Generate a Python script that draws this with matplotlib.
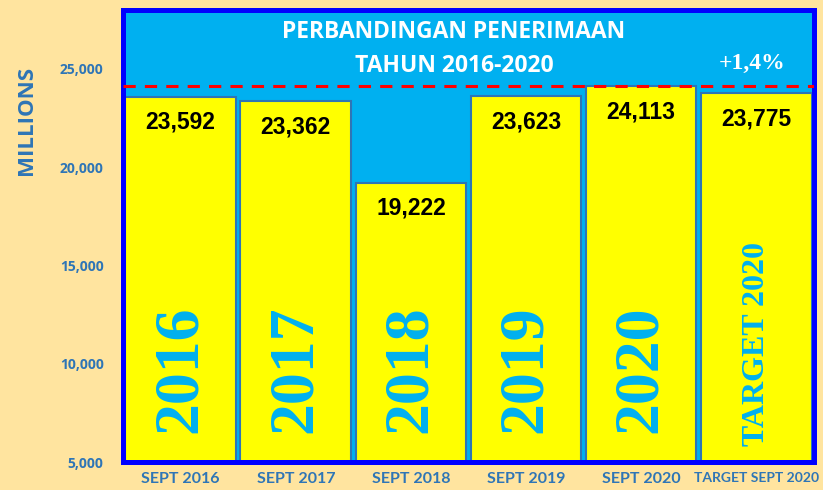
import matplotlib.pyplot as plt

# data
categories = ['SEPT 2016', 'SEPT 2017', 'SEPT 2018', 'SEPT 2019', 'SEPT 2020', 'TARGET SEPT 2020']
values = [23592, 23362, 19222, 23623, 24113, 23775]
big_labels = ['2016', '2017', '2018', '2019', '2020', 'TARGET 2020']
yticks = [5000, 10000, 15000, 20000, 25000]
ref_level = 24113

fig = plt.figure(figsize=(8.23, 4.9), dpi=100, facecolor='#FFE49F')
ax = fig.add_axes([0.1495, 0.057, 0.8395, 0.9226])
ax.set_facecolor('#00B0F0')

x = range(len(categories))
ax.bar(x, values, width=0.96, color='#FFFF00', edgecolor='#2E75B6', linewidth=1.5, zorder=2)

# value labels
for i, v in enumerate(values):
    ax.text(i, v - 1300, f'{v:,}', ha='center', va='center', fontsize=16.5,
            fontweight='bold', family='Liberation Sans', color='black', zorder=3)

# big vertical year labels
for i, lab in enumerate(big_labels):
    if len(lab) > 4:
        ax.text(i, 5800, lab, rotation=90, ha='center', va='bottom', fontsize=23,
                fontweight='bold', family='Liberation Serif', color='#00B0F0', zorder=3)
    else:
        ax.text(i, 6480, lab, rotation=90, ha='center', va='bottom', fontsize=46,
                fontweight='bold', family='Liberation Serif', color='#00B0F0', zorder=3)

# reference dashed line
ax.axhline(ref_level, color='#FF0000', linestyle=(0, (4, 3)), linewidth=2.2, zorder=4)

# title and annotation
ax.text(0.479, 0.951, 'PERBANDINGAN PENERIMAAN', transform=ax.transAxes, ha='center',
        va='center', fontsize=16.5, fontweight='bold', color='white', family='Open Sans')
ax.text(0.479, 0.876, 'TAHUN 2016-2020', transform=ax.transAxes, ha='center',
        va='center', fontsize=16.5, fontweight='bold', color='white', family='Open Sans')
ax.text(4.96, 25300, '+1,4%', ha='center', va='center', fontsize=17, fontweight='bold',
        color='white', family='Liberation Serif')

ax.set_xlim(-0.5, len(categories) - 0.5)
ax.set_ylim(5000, 28000)
ax.set_yticks(yticks)
ax.set_yticklabels([f'{t:,}' for t in yticks])
ax.set_xticks(list(x))
ax.set_xticklabels(categories)
ax.tick_params(length=0, colors='#2E75B6')
for lab in ax.get_yticklabels():
    lab.set_fontweight('bold')
    lab.set_fontsize(10)
    lab.set_family('Open Sans')
for lab in ax.get_xticklabels():
    lab.set_fontweight('bold')
    lab.set_fontsize(11.5)
    lab.set_family('Lato')
ax.get_xticklabels()[-1].set_fontsize(10)
ax.tick_params(axis='y', pad=14)
ax.tick_params(axis='x', pad=7)

fig.text(0.032, 0.755, 'MILLIONS', rotation=90, ha='center', va='center', fontsize=16,
         fontweight='bold', color='#2E75B6', family='Open Sans')

for s in ax.spines.values():
    s.set_color('#0000FF')
    s.set_linewidth(3.6)

fig.savefig('out.png', dpi=100, facecolor=fig.get_facecolor())
